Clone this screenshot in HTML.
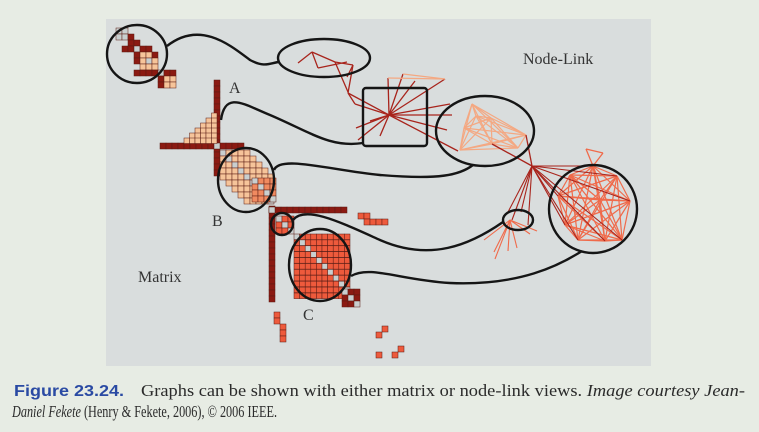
<!DOCTYPE html>
<html><head><meta charset="utf-8"><style>
html,body{margin:0;padding:0;background:#e7ece4;width:759px;height:432px;overflow:hidden}
svg{display:block}
</style></head><body>
<svg id="fig" width="759" height="432" viewBox="0 0 759 432" xmlns="http://www.w3.org/2000/svg">
<rect x="106" y="19" width="545" height="347" fill="#d9dddd"/>
<g id="cells"></g>
<g id="edges"></g>
<g fill="none" stroke="#151515" stroke-width="2.4">
<ellipse cx="137" cy="54" rx="30" ry="29"/>
<ellipse cx="246" cy="180" rx="28" ry="32"/>
<circle cx="282" cy="224" r="11"/>
<ellipse cx="320" cy="265" rx="31" ry="36"/>
<ellipse cx="324" cy="58" rx="46" ry="19"/>
<rect x="363" y="88" width="64" height="58" rx="3"/>
<ellipse cx="485" cy="131" rx="49" ry="35"/>
<circle cx="593" cy="209" r="44"/>
<ellipse cx="518" cy="220" rx="15" ry="10"/>
<path d="M167,46 C200,20 230,45 250,60 C265,68 270,63 279,62"/>
<path d="M221,120 C225,90 245,105 270,115 C310,132 330,148 363,143"/>
<path d="M274,170 C280,155 330,170 380,175 C440,180 460,175 473,165"/>
<path d="M293,220 C305,205 340,222 380,240 C430,262 470,245 503,222"/>
<path d="M351,276 C370,265 400,280 450,283 C520,286 560,265 582,251"/>
</g>
<g font-family="Liberation Serif, serif" font-size="16" fill="#333">
<text x="229" y="93">A</text>
<text x="212" y="226">B</text>
<text x="303" y="320">C</text>
<text x="138" y="282">Matrix</text>
<text x="523" y="64">Node-Link</text>
</g>
<g fill="#2b2b2b">
<text x="14" y="396" font-family="Liberation Sans, sans-serif" font-weight="bold" font-size="16" fill="#2a4aa3" textLength="110" lengthAdjust="spacingAndGlyphs">Figure 23.24.</text>
<text x="141" y="396" font-family="Liberation Serif, serif" font-size="17" textLength="604" lengthAdjust="spacingAndGlyphs">Graphs can be shown with either matrix or node-link views. <tspan font-style="italic">Image courtesy Jean-</tspan></text>
<text x="12" y="417" font-family="Liberation Serif, serif" font-size="17" textLength="265" lengthAdjust="spacingAndGlyphs"><tspan font-style="italic">Daniel Fekete</tspan> (Henry &amp; Fekete, 2006), © 2006 IEEE.</text>
</g>
</svg>
<script>
var NS="http://www.w3.org/2000/svg";
var cells=document.getElementById('cells'), edges=document.getElementById('edges');
function cell(x,y,c,s){var r=document.createElementNS(NS,'rect');


r.setAttribute('x',x);r.setAttribute('y',y);r.setAttribute('width',s||6);r.setAttribute('height',s||6);
r.setAttribute('fill',c);r.setAttribute('stroke','#5a1a12');r.setAttribute('stroke-width','0.5');cells.appendChild(r);}
var DR='#8b1a12',PE='#f6c49a',OR='#ee5a3c',LG='#c9cfcf';
var tl=[[0,0,LG],[1,0,LG],[0,1,LG],[1,1,LG],[2,1,DR],[2,2,DR],[3,2,DR],[1,3,DR],[2,3,DR],[3,3,LG],[4,3,DR],[5,3,DR],[3,4,DR],[4,4,PE],[5,4,PE],[6,4,DR],[3,5,DR],[4,5,PE],[5,5,LG],[6,5,PE],[4,6,PE],[5,6,PE],[6,6,PE],[3,7,DR],[4,7,DR],[5,7,DR],[6,7,DR],[7,7,LG],[8,7,DR],[9,7,DR],[7,8,DR],[8,8,PE],[9,8,PE],[7,9,DR],[8,9,PE],[9,9,PE]];
tl.forEach(function(p){cell(116+p[0]*6,28+p[1]*6,p[2]);});
for(var i=0;i<16;i++)cell(214,80+i*6,DR);
for(i=0;i<14;i++)cell(160+i*6,143,DR);
cell(214,143,LG);
for(var r=0;r<6;r++)for(var c=5-r;c<6;c++)cell(184+c*5.5,113+r*5,PE,5.5);
for(r=0;r<9;r++)for(c=0;c<9;c++){if(Math.abs(r-c)<5)cell(220+c*6,150+r*6,(r==c)?LG:PE);}
for(r=0;r<4;r++)for(c=0;c<4;c++)cell(252+c*6,178+r*6,(r==c)?LG:'#f08a60');
for(i=0;i<16;i++)cell(269,206+i*6,DR);
for(i=0;i<13;i++)cell(269+i*6,207,DR);
cell(269,207,LG);
for(r=0;r<3;r++)for(c=0;c<3;c++)cell(276+c*6,216+r*6,r==c?LG:OR);
for(r=0;r<11;r++)for(c=0;c<10;c++)cell(294+c*5.6,234+r*5.9,r==c?LG:OR,5.6);
for(r=0;r<3;r++)for(c=0;c<3;c++)cell(342+c*6,289+r*6,r==c?LG:DR);
[[358,213],[364,213],[364,219],[370,219],[376,219],[382,219],[274,312],[274,318],[280,324],[280,330],[280,336],[382,326],[376,332],[398,346],[392,352],[376,352]].forEach(function(p){cell(p[0],p[1],OR,6);});
function ln(x1,y1,x2,y2,c,w){var l=document.createElementNS(NS,'line');


l.setAttribute('x1',x1);l.setAttribute('y1',y1);l.setAttribute('x2',x2);l.setAttribute('y2',y2);
l.setAttribute('stroke',c);l.setAttribute('stroke-width',w||1.3);edges.appendChild(l);}
var R1='#a8241c',R2='#f4a882',R3='#f06a4a';
var hub=[389,115];
[[388,78],[403,74],[415,81],[445,79],[370,121],[380,136],[356,128],[358,140],[450,104],[452,115],[447,130],[458,151],[355,104],[348,93]].forEach(function(p){ln(hub[0],hub[1],p[0],p[1],R1);});
[[298,63],[312,52],[335,62],[353,65],[348,93],[348,93],[355,104]].forEach(function(p,i,a){if(i)ln(a[i-1][0],a[i-1][1],p[0],p[1],R1);});
ln(312,52,318,68,R1);ln(318,68,347,62,R1);ln(335,62,348,92,R1);ln(353,65,347,77,R1);
var mid=[[472,104],[491,118],[476,116],[464,128],[492,144],[526,135],[518,148],[460,150]];
mid.forEach(function(a){mid.forEach(function(b){if(a[0]<b[0])ln(a[0],a[1],b[0],b[1],R2,1.2);});});
ln(388,78,445,79,R2);ln(403,74,445,79,R2);
var hub2=[532,166];
ln(492,144,hub2[0],hub2[1],R1);ln(526,135,hub2[0],hub2[1],R1);
var big=[[593,166],[617,176],[630,201],[622,240],[605,241],[578,240],[565,225],[558,196],[570,175],[600,200]];
big.forEach(function(a){big.forEach(function(b){if(a[0]<b[0])ln(a[0],a[1],b[0],b[1],R3,1.2);});});
big.slice(0,8).forEach(function(p){ln(hub2[0],hub2[1],p[0],p[1],R1,1.1);});
ln(586,149,603,153,R3);ln(586,149,593,166,R3);ln(603,153,593,166,R3);
[[521,212],[528,225],[512,220],[507,214]].forEach(function(p){ln(hub2[0],hub2[1],p[0],p[1],R1,1.1);});
[[484,240],[494,252],[495,259],[508,251],[517,248],[530,234],[537,231]].forEach(function(p){ln(510,220,p[0],p[1],R3,1.1);});
</script>
</body></html>
